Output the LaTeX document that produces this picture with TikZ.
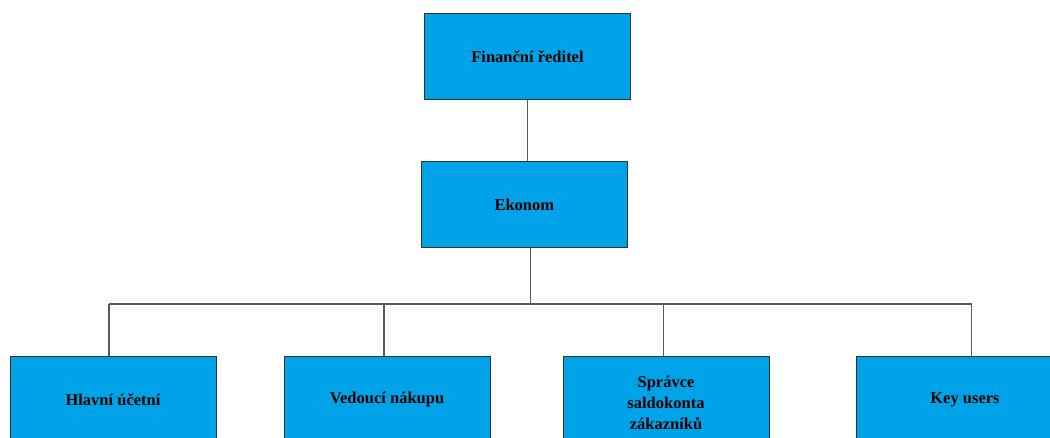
\documentclass[tikz,border=0pt]{standalone}
\usepackage{fontspec}
\setmainfont{Liberation Serif}
\begin{document}
\begin{tikzpicture}[x=1pt,y=1pt,
  orgbox/.style={draw=black!80, line width=1pt, fill=boxblue,
    minimum width=206pt, minimum height=86pt, inner sep=0pt,
    font=\fontsize{16.5}{21}\selectfont\bfseries, text=black, align=center},
  link/.style={draw=black!65, line width=1.1pt}]
\definecolor{boxblue}{RGB}{0,162,232}
\useasboundingbox (0,0) rectangle (1050,438);
\clip (0,0) rectangle (1050,438);

% top levels
\node[orgbox] (fin) at (527.5,381) {Finanční ředitel};
\node[orgbox] (eko) at (524.3,233) {Ekonom};

% department heads (their lower edges run past the page)
\node[orgbox] (hu) at (113,38) {Hlavní účetní};
\node[orgbox] (vn) at (387,38) {Vedoucí nákupu};
\node[orgbox, text width=110pt, minimum height=91pt] (sz) at (666,35.5) {Správce\\saldokonta\\zákazníků};
\node[orgbox, minimum width=218pt] (ku) at (965,38) {Key users};

% junctions of the distribution bar
\coordinate (bus) at (530.3,134);
\coordinate (j1) at (109,134);
\coordinate (j2) at (384,134);
\coordinate (j3) at (663.7,134);
\coordinate (j4) at (971.7,134);

\draw[link] (fin.south) -- (fin.south |- eko.north);
\draw[link] (eko.south -| bus) -- (bus);
\draw[link] (j1) -- (j4);
\draw[link] (j1) -- (j1 |- hu.north);
\draw[link] (j2) -- (j2 |- vn.north);
\draw[link] (j3) -- (j3 |- sz.north);
\draw[link] (j4) -- (j4 |- ku.north);
\end{tikzpicture}
\end{document}
